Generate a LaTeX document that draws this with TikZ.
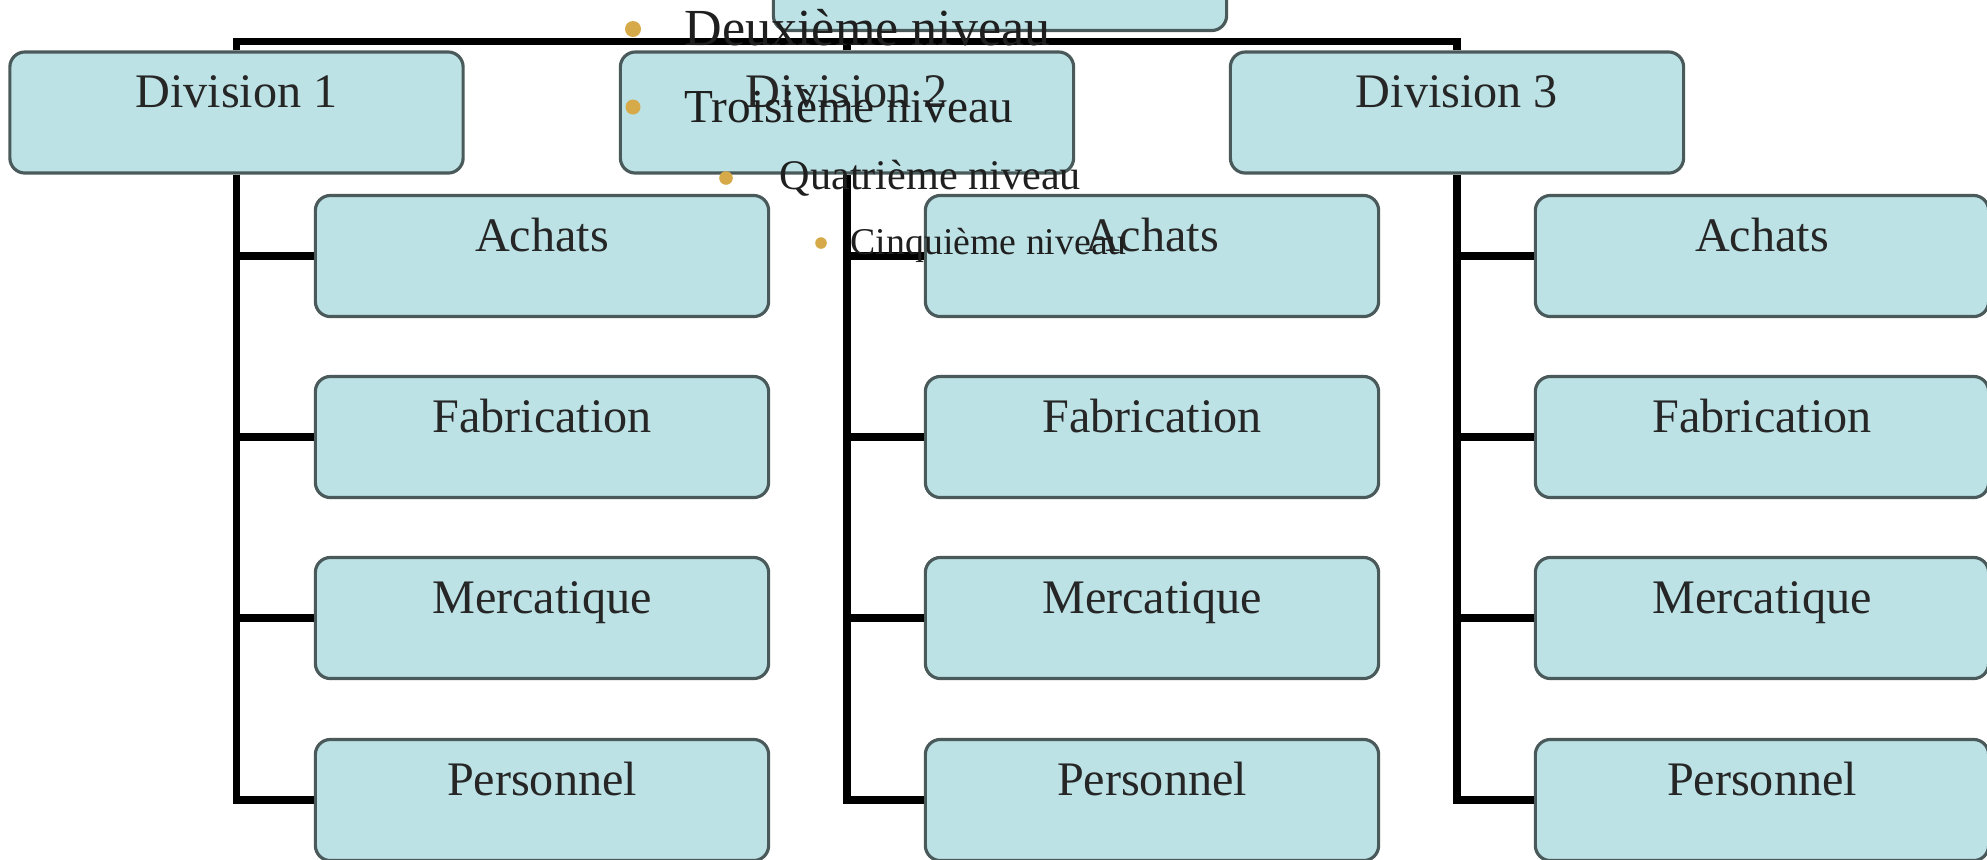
\documentclass[tikz,border=0pt]{standalone}
\usepackage{fontspec}
\setmainfont{Liberation Serif}
\definecolor{boxfill}{RGB}{188,226,229}
\definecolor{boxline}{RGB}{74,90,90}
\definecolor{puce}{RGB}{214,170,72}
\tikzset{
	unite/.style={draw=boxline, fill=boxfill, line width=0.9pt, rounded corners=0.15cm,
		minimum width=4.53cm, minimum height=1.21cm, inner sep=0pt,
		text height=0.34cm, text depth=0.44cm, text=black!85,
		font=\fontsize{13.7pt}{16pt}\selectfont},
	lien/.style={line width=2.2pt, black},
	niveau/.style={anchor=base west, inner sep=0pt, text=black!88},
}

\begin{document}
\begin{tikzpicture}[x=0.01cm, y=-0.01cm]
			\useasboundingbox (0,0) rectangle (1987,859);
			\clip (0,0) rectangle (1987,859);
			%%%%% START %%%%%
			
			\node[unite] (dir) at (1000,-30) {};
			
			\node[unite] (div1) at (236.5,112.5) {Division 1};
			\node[unite] (div2) at (847,112.5) {Division 2};
			\node[unite] (div3) at (1457,112.5) {Division 3};
			
			\draw[lien] (div1.north) -- ++(0,-9) -| (div3.north);
			\draw[lien] (div2.north) -- ++(0,-9);
			
			\node[unite] (achats1) at (542,256) {Achats};
			\node[unite] (fab1) at (542,437) {Fabrication};
			\node[unite] (merc1) at (542,618) {Mercatique};
			\node[unite] (pers1) at (542,800) {Personnel};
			
			\node[unite] (achats2) at (1152,256) {Achats};
			\node[unite] (fab2) at (1152,437) {Fabrication};
			\node[unite] (merc2) at (1152,618) {Mercatique};
			\node[unite] (pers2) at (1152,800) {Personnel};
			
			\node[unite] (achats3) at (1762,256) {Achats};
			\node[unite] (fab3) at (1762,437) {Fabrication};
			\node[unite] (merc3) at (1762,618) {Mercatique};
			\node[unite] (pers3) at (1762,800) {Personnel};
			
			\draw[lien] (div1.south) |- (pers1.west);
			\draw[lien] (div1.south |- achats1.west) -- (achats1.west);
			\draw[lien] (div1.south |- fab1.west) -- (fab1.west);
			\draw[lien] (div1.south |- merc1.west) -- (merc1.west);
			
			\draw[lien] (div2.south) |- (pers2.west);
			\draw[lien] (div2.south |- achats2.west) -- (achats2.west);
			\draw[lien] (div2.south |- fab2.west) -- (fab2.west);
			\draw[lien] (div2.south |- merc2.west) -- (merc2.west);
			
			\draw[lien] (div3.south) |- (pers3.west);
			\draw[lien] (div3.south |- achats3.west) -- (achats3.west);
			\draw[lien] (div3.south |- fab3.west) -- (fab3.west);
			\draw[lien] (div3.south |- merc3.west) -- (merc3.west);
			
			\fill[puce] (633,29) circle[radius=0.08cm];
			\node[niveau, font=\fontsize{14.8pt}{17pt}\selectfont] (niv2) at (684,45) {Deuxième niveau};
			\fill[puce] (633,107) circle[radius=0.075cm];
			\node[niveau, font=\fontsize{13.45pt}{16pt}\selectfont] (niv3) at (684,122) {Troisième niveau};
			\fill[puce] (726,178) circle[radius=0.068cm];
			\node[niveau, font=\fontsize{12pt}{14pt}\selectfont] (niv4) at (779,189) {Quatrième niveau};
			\fill[puce] (821,243) circle[radius=0.058cm];
			\node[niveau, font=\fontsize{10.75pt}{13pt}\selectfont] (niv5) at (850,254) {Cinquième niveau};
			
			%%%%% END %%%%%
		\end{tikzpicture}
\end{document}
